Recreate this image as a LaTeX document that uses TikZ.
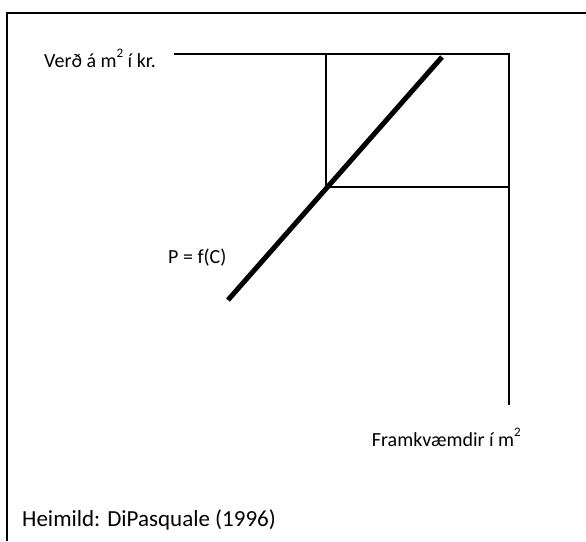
\documentclass[tikz,border=0pt]{standalone}
\usepackage{fontspec}
\setmainfont{Carlito}
\newcommand{\sqsup}{\raisebox{10pt}{\fontsize{13}{13}\selectfont 2}}
\begin{document}
\begin{tikzpicture}[x=1pt,y=-1pt,
  thinline/.style={line width=1.3pt},
  frameline/.style={line width=2pt},
  curveline/.style={line width=5pt},
  lab/.style={inner sep=0pt,font=\fontsize{20}{24}\selectfont},
  srclab/.style={inner sep=0pt,font=\fontsize{23}{27}\selectfont}]
\useasboundingbox (0,0) rectangle (586,541);
% frame (cropped at right and bottom)
\coordinate (fb) at (7,541);
\coordinate (fc) at (7,13);
\coordinate (fr) at (586,13);
\draw[frameline] (fb) -- (fc) -- (fr);
% axes and box
\coordinate (ts) at (174,54);
\coordinate (tl) at (326,54);
\coordinate (tr) at (509,54);
\coordinate (bl) at (326,187);
\coordinate (br) at (509,187);
\coordinate (axb) at (509,405);
\draw[thinline] (ts) -- (tr) -- (axb);
\draw[thinline] (tl) -- (bl) -- (br);
% supply curve
\coordinate (d1) at (228,300);
\coordinate (d2) at (442,57);
\draw[curveline] (d1) -- (d2);
% labels
\node[lab,anchor=base west] (price) at (44,67) {Verð á m\sqsup\ í kr.};
\node[lab,anchor=base west] (pf) at (168,263) {P = f(C)};
\node[lab,anchor=base east] (qty) at (521,446) {Framkvæmdir í m\sqsup};
\node[srclab,anchor=base west] (src) at (22,526) {Heimild: DiPasquale (1996)};
\end{tikzpicture}
\end{document}
